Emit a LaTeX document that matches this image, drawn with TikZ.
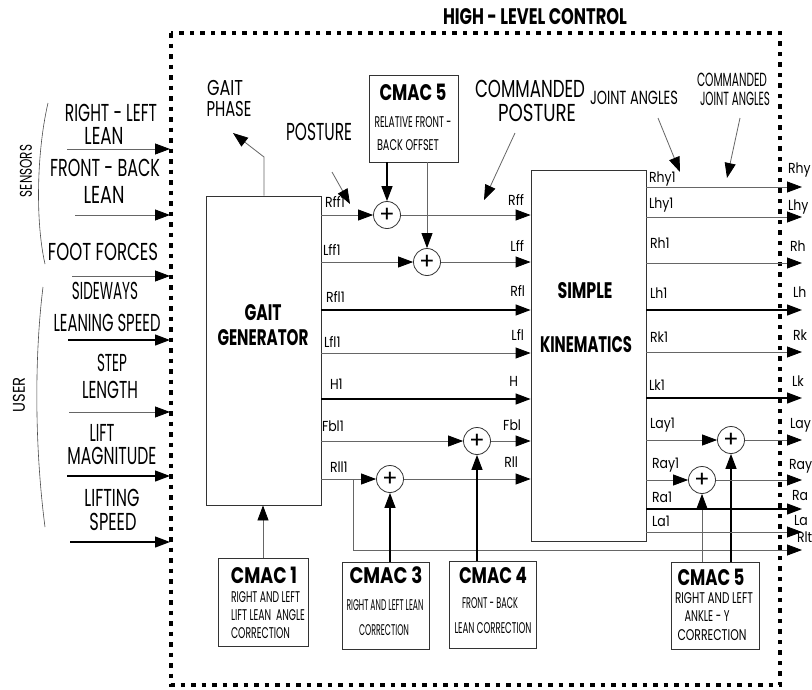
\documentclass[tikz,border=0pt]{standalone}
\usepackage{fontspec}
\setmainfont{Poppins}
\newfontfamily\sigfont{Poppins}[FakeStretch=0.86]
\usepackage{graphicx}
\usetikzlibrary{arrows.meta}
\newcommand\fitw[2]{\resizebox{#1pt}{\height}{#2}}
\begin{document}
\begin{tikzpicture}[x=1pt,y=-1pt,
 txt/.style={inner sep=0pt, outer sep=0pt},
 big/.style={txt, font=\fontsize{24.5}{24.5}\selectfont},
 gph/.style={txt, font=\fontsize{21.5}{21.5}\selectfont},
 mid/.style={txt, font=\fontsize{19}{19}\selectfont},
 sml/.style={txt, font=\fontsize{15.5}{15.5}\selectfont},
 sig/.style={txt, font=\sigfont\fontsize{14.5}{14.5}\selectfont},
 bld/.style={txt, font=\bfseries\fontsize{22.5}{22.5}\selectfont},
 box/.style={draw=black!80, line width=0.8pt, inner sep=0pt},
 sum/.style={circle, draw=black!80, line width=0.8pt, minimum size=27pt, inner sep=0pt, font=\fontsize{23}{23}\selectfont},
 wire/.style={draw=black!60, line width=0.8pt},
 dark/.style={draw=black, line width=1.2pt},
 arr/.style={-{Triangle[length=15pt,width=11pt,color=black]}},
 border/.style={line width=4.5pt, dash pattern=on 4.5pt off 6pt},
]
\useasboundingbox (0,0) rectangle (812,689);
\fill[white] (0,0) rectangle (812,689);

% high-level control frame
\draw[border] (171,33) rectangle (780,685);
\node[bld] (hlc) at (535,17) {\fitw{184}{HIGH - LEVEL CONTROL}};

% brackets and side labels
\draw[black!70, line width=0.6pt] (48,103) .. controls (37,150) and (35,220) .. (45,264);
\draw[black!70, line width=0.6pt] (43,287) .. controls (34,360) and (35,450) .. (45,527);
\node[txt, rotate=90, font=\fontsize{17}{17}\selectfont] (sens) at (26,171) {\fitw{52}{SENSORS}};
\node[txt, rotate=90, font=\fontsize{17}{17}\selectfont] (user) at (19,395) {\fitw{35}{USER}};

% input labels
\node[big] (l1a) at (111,113) {\fitw{92}{RIGHT - LEFT}};
\node[big] (l1b) at (104,136) {\fitw{39}{LEAN}};
\node[big] (l2a) at (105,168) {\fitw{110}{FRONT - BACK}};
\node[big] (l2b) at (104,195) {\fitw{41}{LEAN}};
\node[big] (l3a) at (103,252) {\fitw{110}{FOOT FORCES}};
\node[big] (l4a) at (105,291) {\fitw{66}{SIDEWAYS}};
\node[big] (l4b) at (107,323) {\fitw{107}{LEANING SPEED}};
\node[big] (l5a) at (112,363) {\fitw{30}{STEP}};
\node[big] (l5b) at (110,390) {\fitw{56}{LENGTH}};
\node[big] (l6a) at (102,433) {\fitw{25}{LIFT}};
\node[big] (l6b) at (112,456) {\fitw{89}{MAGNITUDE}};
\node[big] (l7a) at (112,498) {\fitw{55}{LIFTING}};
\node[big] (l7b) at (113,522) {\fitw{47}{SPEED}};

% input arrows
\coordinate (i1) at (67,149); \coordinate (e1) at (170,149);
\coordinate (i2) at (75,215); \coordinate (e2) at (170,215);
\coordinate (i3) at (72,276); \coordinate (e3) at (170,276);
\coordinate (i4) at (68,340); \coordinate (e4) at (170,340);
\coordinate (i5) at (69,412); \coordinate (e5) at (170,412);
\coordinate (i6) at (67,476); \coordinate (e6) at (170,476);
\coordinate (i7) at (70,542); \coordinate (e7) at (170,542);
\draw[wire,arr] (i1) -- (e1);
\draw[wire,arr] (i2) -- (e2);
\draw[wire,arr] (i3) -- (e3);
\draw[dark,arr] (i4) -- (e4);
\draw[wire,arr] (i5) -- (e5);
\draw[dark,arr] (i6) -- (e6);
\draw[dark,arr] (i7) -- (e7);

% main boxes
\node[box, minimum width=115pt, minimum height=309pt] (gg) at (263.5,350.5) {};
\node[bld] (ggt1) at (263,313) {\fitw{37}{GAIT}};
\node[bld] (ggt2) at (263,338) {\fitw{91}{GENERATOR}};
\node[box, minimum width=115pt, minimum height=371pt] (sk) at (588.5,355.5) {};
\node[bld] (skt1) at (585,291) {\fitw{55}{SIMPLE}};
\node[bld] (skt2) at (586,345) {\fitw{92}{KINEMATICS}};

% CMAC boxes
\node[box, minimum width=89pt, minimum height=87pt] (c5t) at (413.5,118.5) {};
\node[bld] (c5ta) at (413,92) {\fitw{67}{CMAC 5}};
\node[sml] (c5tb) at (413,122) {\fitw{77}{RELATIVE FRONT -}};
\node[sml] (c5tc) at (408,145) {\fitw{62}{BACK OFFSET}};

\node[box, minimum width=90pt, minimum height=88pt] (c1) at (263,602) {};
\node[bld] (c1a) at (264,575) {\fitw{66}{CMAC 1}};
\node[sml, anchor=west] (c1b) at (231,597) {\fitw{69}{RIGHT AND LEFT}};
\node[sml, anchor=west] (c1c) at (231,615) {\fitw{74}{LIFT LEAN\ \ ANGLE}};
\node[sml, anchor=west] (c1d) at (231,633) {\fitw{59}{CORRECTION}};

\node[box, minimum width=87pt, minimum height=87pt] (c3) at (385.5,605.5) {};
\node[bld] (c3a) at (386,575) {\fitw{73}{CMAC 3}};
\node[sml] (c3b) at (385,605) {\fitw{77}{RIGHT AND LEFT LEAN}};
\node[sml] (c3c) at (384,630) {\fitw{50}{CORRECTION}};

\node[box, minimum width=87pt, minimum height=87pt] (c4) at (492.5,604.5) {};
\node[bld] (c4a) at (493,575) {\fitw{68}{CMAC 4}};
\node[sml] (c4b) at (490,603) {\fitw{56}{FRONT - BACK}};
\node[sml] (c4c) at (493,628) {\fitw{77}{LEAN CORRECTION}};

\node[box, minimum width=88pt, minimum height=87pt] (c5b) at (715,605.5) {};
\node[bld] (c5ba) at (711,577) {\fitw{67}{CMAC 5}};
\node[sml] (c5bb) at (714,598) {\fitw{78}{RIGHT AND LEFT}};
\node[sml] (c5bc) at (707,616) {\fitw{45}{ANKLE - Y}};
\node[sml] (c5bd) at (712,635) {\fitw{69}{CORRECTION}};

% summing junctions
\node[sum] (s1) at (387,215) {+};
\node[sum] (s2) at (427,262) {+};
\node[sum] (s3) at (477,441) {+};
\node[sum] (s4) at (390,479) {+};
\node[sum] (s5) at (731,440) {+};
\node[sum] (s6) at (702,480) {+};

% gait generator -> kinematics
\coordinate (yRfl) at (0,310);
\coordinate (yLfl) at (0,353);
\coordinate (yH) at (0,399);
\draw[wire,arr] (gg.east|-s1) -- (s1);
\draw[wire,arr] (s1) -- (sk.west|-s1);
\draw[wire,arr] (gg.east|-s2) -- (s2);
\draw[wire,arr] (s2) -- (sk.west|-s2);
\draw[dark,arr] (gg.east|-yRfl) -- (sk.west|-yRfl);
\draw[wire,arr] (gg.east|-yLfl) -- (sk.west|-yLfl);
\draw[dark,arr] (gg.east|-yH) -- (sk.west|-yH);
\draw[wire,arr] (gg.east|-s3) -- (s3);
\draw[wire,arr] (s3) -- (sk.west|-s3);
\draw[wire,arr] (gg.east|-s4) -- (s4);
\draw[wire,arr] (s4) -- (sk.west|-s4);
\coordinate (br) at (353,479);
\coordinate (brd) at (353,550);
\coordinate (oRlt) at (802,550);
\draw[wire,arr] (br) -- (brd) -- (oRlt);

% CMAC corrections
\draw[dark,arr] (c5t.south-|s1) -- (s1);
\draw[wire,arr] (c5t.south-|s2) -- (s2);
\draw[dark,arr] (c3.north-|s4) -- (s4);
\draw[dark,arr] (c4.north-|s3) -- (s3);
\draw[wire,arr] (c5b.north-|s6) -- (s6);
\draw[dark,arr] (c5b.north-|s5) -- (s5);
\draw[wire,arr] (c1.north) -- (c1.north|-gg.south);

% gait phase
\coordinate (gpb) at (264,157);
\coordinate (gpt) at (233,133);
\draw[wire,arr] (gg.north-|gpb) -- (gpb) -- (gpt);
\node[gph] (gp1) at (225,88) {\fitw{36}{GAIT}};
\node[gph] (gp2) at (229,109) {\fitw{45}{PHASE}};

% annotations
\node[big] (post) at (319,132) {\fitw{66}{POSTURE}};
\coordinate (pa1) at (332,172); \coordinate (pa2) at (350,204);
\draw[wire,arr] (pa1) -- (pa2);
\node[big] (cp1) at (530,89) {\fitw{110}{COMMANDED}};
\node[big] (cp2) at (537,113) {\fitw{78}{POSTURE}};
\coordinate (cpa1) at (515,133); \coordinate (cpa2) at (484,200);
\draw[wire,arr] (cpa1) -- (cpa2);
\node[mid] (ja) at (634,98) {\fitw{88}{JOINT ANGLES}};
\coordinate (jaa1) at (658,118); \coordinate (jaa2) at (680,172);
\draw[wire,arr] (jaa1) -- (jaa2);
\node[mid] (cja1) at (732,80) {\fitw{70}{COMMANDED}};
\node[mid] (cja2) at (735,99) {\fitw{70}{JOINT ANGLES}};
\coordinate (cjaa1) at (740,118); \coordinate (cjaa2) at (727,178);
\draw[wire,arr] (cjaa1) -- (cjaa2);

% kinematics outputs
\coordinate (oRhy) at (802,187);
\coordinate (oLhy) at (802,217);
\coordinate (oRh) at (802,263);
\coordinate (oLh) at (802,310);
\coordinate (oRk) at (802,352);
\coordinate (oLk) at (802,398);
\coordinate (oLay) at (802,440);
\coordinate (oRay) at (802,480);
\coordinate (oRa) at (802,509);
\coordinate (oLa) at (802,532);
\draw[wire,arr] (sk.east|-oRhy) -- (oRhy);
\draw[wire,arr] (sk.east|-oLhy) -- (oLhy);
\draw[wire,arr] (sk.east|-oRh) -- (oRh);
\draw[dark,arr] (sk.east|-oLh) -- (oLh);
\draw[wire,arr] (sk.east|-oRk) -- (oRk);
\draw[dark,arr] (sk.east|-oLk) -- (oLk);
\draw[wire,arr] (sk.east|-s5) -- (s5);
\draw[wire,arr] (s5) -- (oLay);
\draw[wire,arr] (sk.east|-s6) -- (s6);
\draw[wire,arr] (s6) -- (oRay);
\draw[dark,arr] (sk.east|-oRa) -- (oRa);
\draw[wire,arr] (sk.east|-oLa) -- (oLa);

% signal labels (gait side)
\node[sig, anchor=base west] (tRff1) at (325,207.5) {Rff1};
\node[sig, anchor=base west] (tLff1) at (323,255.5) {Lff1};
\node[sig, anchor=base west] (tRfl1) at (326,302.5) {Rfl1};
\node[sig, anchor=base west] (tLfl1) at (324,347.5) {Lfl1};
\node[sig, anchor=base west] (tH1) at (330,389.5) {H1};
\node[sig, anchor=base west] (tFbl1) at (322,431.5) {Fbl1};
\node[sig, anchor=base west] (tRll1) at (330,472.5) {Rll1};
% signal labels (kinematics input side)
\node[sig, anchor=base east] (tRff) at (524,205.5) {Rff};
\node[sig, anchor=base east] (tLff) at (524,251.5) {Lff};
\node[sig, anchor=base east] (tRfl) at (525,296.5) {Rfl};
\node[sig, anchor=base east] (tLfl) at (524,340.5) {Lfl};
\node[sig, anchor=base east] (tH) at (518,386.5) {H};
\node[sig, anchor=base east] (tFbl) at (521,430.5) {Fbl};
\node[sig, anchor=base east] (tRll) at (518,467.5) {Rll};
% kinematics output labels
\node[sig, anchor=base west] (tRhy1) at (649,182.5) {Rhy1};
\node[sig, anchor=base west] (tLhy1) at (649,208.5) {Lhy1};
\node[sig, anchor=base west] (tRh1) at (650,248.5) {Rh1};
\node[sig, anchor=base west] (tLh1) at (650,298.5) {Lh1};
\node[sig, anchor=base west] (tRk1) at (650,342.5) {Rk1};
\node[sig, anchor=base west] (tLk1) at (649,390.5) {Lk1};
\node[sig, anchor=base west] (tLay1) at (650,428.5) {Lay1};
\node[sig, anchor=base west] (tRay1) at (652,468.5) {Ray1};
\node[sig, anchor=base west] (tRa1) at (652,502.5) {Ra1};
\node[sig, anchor=base west] (tLa1) at (652,526.5) {La1};
% outer output labels
\node[sig, anchor=base west] (tRhy) at (788,173.5) {Rhy};
\node[sig, anchor=base west] (tLhy) at (788,210.5) {Lhy};
\node[sig, anchor=base west] (tRh) at (790,251.5) {Rh};
\node[sig, anchor=base west] (tLh) at (793,297.5) {Lh};
\node[sig, anchor=base west] (tRk) at (793,340.5) {Rk};
\node[sig, anchor=base west] (tLk) at (792,386.5) {Lk};
\node[sig, anchor=base west] (tLay) at (790,428.5) {Lay};
\node[sig, anchor=base west] (tRay) at (789,469.5) {Ray};
\node[sig, anchor=base west] (tRa) at (792,500.5) {Ra};
\node[sig, anchor=base west] (tLa) at (794,525.5) {La};
\node[sig, anchor=base west] (tRlt) at (797,542.5) {Rlt};
\end{tikzpicture}
\end{document}
